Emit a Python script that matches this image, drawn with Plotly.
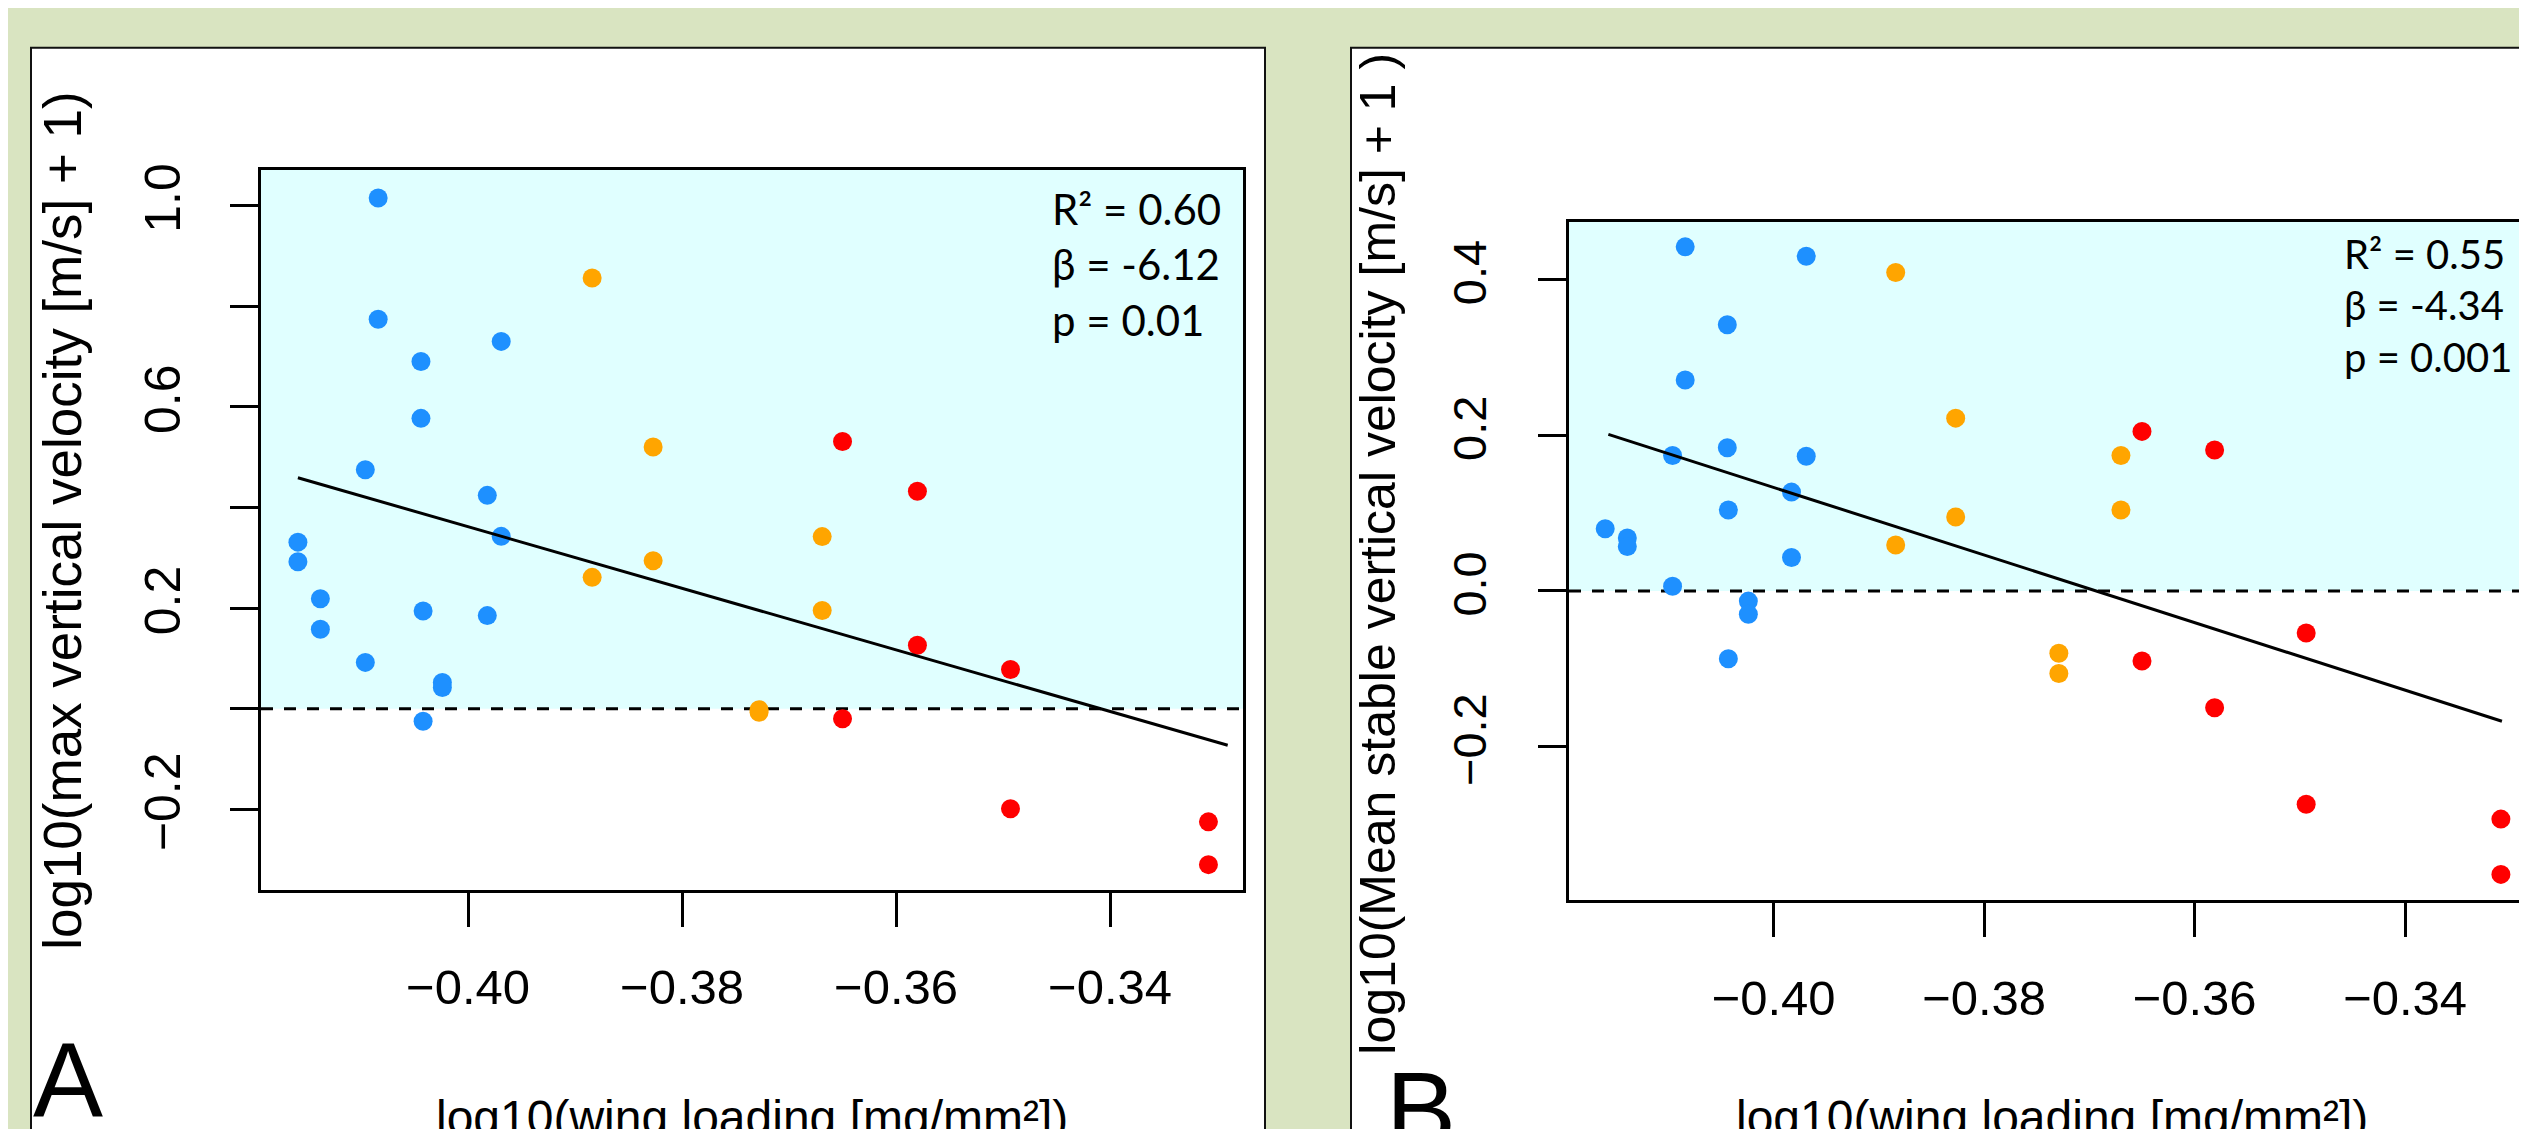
import plotly.graph_objects as go

W, H = 2527, 1129

# ---- panel A: log10(max vertical velocity [m/s] + 1)
a_blue_x = [-0.4084, -0.4084, -0.4044, -0.4044, -0.3969, -0.4096, -0.3982, -0.3969, -0.4159,
            -0.4159, -0.4138, -0.4138, -0.4042, -0.3982, -0.4096, -0.4024, -0.4024, -0.4042]
a_blue_y = [1.015, 0.774, 0.690, 0.577, 0.730, 0.475, 0.424, 0.3425, 0.331,
            0.292, 0.2185, 0.158, 0.194, 0.185, 0.092, 0.052, 0.042, -0.025]
a_orange_x = [-0.3884, -0.3884, -0.3827, -0.3827, -0.3669, -0.3669, -0.3728, -0.3728]
a_orange_y = [0.856, 0.261, 0.520, 0.294, 0.342, 0.195, -0.002, -0.007]
a_red_x = [-0.3650, -0.3650, -0.3580, -0.3580, -0.3493, -0.3493, -0.3308, -0.3308]
a_red_y = [0.531, -0.020, 0.432, 0.126, 0.078, -0.199, -0.225, -0.310]
a_fit = {"intercept": -2.0863, "slope": -6.12, "x": [-0.4159, -0.3290]}
a_stats = ["R² = 0.60", "β = -6.12", "p = 0.01"]

# ---- panel B: log10(Mean stable vertical velocity [m/s] + 1)
b_blue_x = [-0.4084, -0.3969, -0.4044, -0.4084, -0.4096, -0.4044, -0.3969, -0.3983, -0.4043,
            -0.4160, -0.4139, -0.4139, -0.3983, -0.4096, -0.4024, -0.4024, -0.4043]
b_blue_y = [0.442, 0.430, 0.342, 0.271, 0.174, 0.184, 0.173, 0.127, 0.104,
            0.080, 0.068, 0.057, 0.043, 0.006, -0.013, -0.030, -0.087]
b_orange_x = [-0.3884, -0.3884, -0.3827, -0.3827, -0.3670, -0.3670, -0.3729, -0.3729]
b_orange_y = [0.409, 0.059, 0.222, 0.095, 0.174, 0.104, -0.080, -0.106]
b_red_x = [-0.3650, -0.3650, -0.3581, -0.3581, -0.3494, -0.3494, -0.3309, -0.3309]
b_red_y = [0.205, -0.090, 0.181, -0.150, -0.054, -0.274, -0.293, -0.364]
b_fit = {"intercept": -1.6030, "slope": -4.34, "x": [-0.4157, -0.3308]}
b_stats = ["R² = 0.55", "β = -4.34", "p = 0.001"]

x_ticks = [-0.40, -0.38, -0.36, -0.34]
x_ticktext = ["\u22120.40", "\u22120.38", "\u22120.36", "\u22120.34"]
a_yticks = [-0.2, 0.0, 0.2, 0.4, 0.6, 0.8, 1.0]
a_yticktext = ["\u22120.2", "", "0.2", "", "0.6", "", "1.0"]
b_yticks = [-0.2, 0.0, 0.2, 0.4]
b_yticktext = ["\u22120.2", "0.0", "0.2", "0.4"]

BLUE, ORANGE, RED = "#1E90FF", "#FFA500", "#FF0000"
BG = "#D9E4C1"
CYAN = "#E0FFFF"
AXFONT = "Liberation Sans, Arial, sans-serif"
STATFONT = "Lato, Open Sans, sans-serif"


def px(x):
    return x / W


def py(y):
    return 1 - y / H


fig = go.Figure()

for xs, ys, col, xa, ya in [
    (a_blue_x, a_blue_y, BLUE, "x", "y"),
    (a_orange_x, a_orange_y, ORANGE, "x", "y"),
    (a_red_x, a_red_y, RED, "x", "y"),
    (b_blue_x, b_blue_y, BLUE, "x2", "y2"),
    (b_orange_x, b_orange_y, ORANGE, "x2", "y2"),
    (b_red_x, b_red_y, RED, "x2", "y2"),
]:
    fig.add_trace(go.Scatter(x=xs, y=ys, mode="markers", xaxis=xa, yaxis=ya,
                             marker=dict(color=col, size=19, line=dict(width=0)),
                             showlegend=False))

for fit, xa, ya in [(a_fit, "x", "y"), (b_fit, "x2", "y2")]:
    fx = fit["x"]
    fy = [fit["intercept"] + fit["slope"] * v for v in fx]
    fig.add_trace(go.Scatter(x=fx, y=fy, mode="lines", xaxis=xa, yaxis=ya,
                             line=dict(color="black", width=3), showlegend=False))

shapes = [
    # white panels
    dict(type="rect", xref="paper", yref="paper", x0=px(23), x1=px(1257), y0=-0.02, y1=py(33),
         fillcolor="white", line=dict(color="#111", width=2), layer="below"),
    dict(type="rect", xref="paper", yref="paper", x0=px(1343), x1=1.02, y0=-0.02, y1=py(33),
         fillcolor="white", line=dict(color="#111", width=2), layer="below"),
]
for xd, yr, top in [("x domain", "y", 1.0706), ("x2 domain", "y2", 0.4743)]:
    shapes.append(dict(type="rect", xref=xd, yref=yr, x0=0, x1=1, y0=0, y1=top,
                       fillcolor=CYAN, line=dict(width=0), layer="below"))
    shapes.append(dict(type="line", xref=xd, yref=yr, x0=0, x1=1, y0=0, y1=0,
                       line=dict(color="black", width=3, dash="12px,11px"), layer="below"))

axis_common = dict(showgrid=False, zeroline=False, showline=True, linecolor="black", linewidth=3,
                   ticks="outside", tickcolor="black", tickwidth=3)
xtick_font = dict(family=AXFONT, size=49, color="black")

fig.update_layout(
    width=W, height=H,
    margin=dict(l=0, r=0, t=0, b=0),
    paper_bgcolor=BG, plot_bgcolor="white",
    shapes=shapes,
    xaxis=dict(axis_common, domain=[px(253), px(1235)], range=[-0.41935, -0.32757], anchor="y",
               mirror=True, tickvals=x_ticks, ticktext=x_ticktext, ticklen=34,
               ticklabelstandoff=19, tickfont=xtick_font),
    yaxis=dict(axis_common, domain=[py(880), py(156)], range=[-0.3595, 1.0706], anchor="x",
               mirror=True, tickvals=a_yticks, ticktext=a_yticktext, ticklen=28, tickangle=-90,
               ticklabelstandoff=30, tickfont=dict(family=AXFONT, size=50, color="black")),
    xaxis2=dict(axis_common, domain=[px(1561), 1.0], range=[-0.41944, -0.32766], anchor="y2",
                mirror=True, tickvals=x_ticks, ticktext=x_ticktext, ticklen=34,
                ticklabelstandoff=19, tickfont=xtick_font),
    yaxis2=dict(axis_common, domain=[py(890.6), py(208)], range=[-0.397, 0.4743], anchor="x2",
                mirror=False, tickvals=b_yticks, ticktext=b_yticktext, ticklen=28, tickangle=-90,
                ticklabelstandoff=33, tickfont=dict(family=AXFONT, size=47, color="black")),
)

ann = []
ann.append(dict(x=px(55), y=py(509), text="log10(max vertical velocity [m/s] + 1)", textangle=-90,
                font=dict(family=AXFONT, size=53, color="black")))
ann.append(dict(x=px(1370), y=py(542), text="log10(Mean stable vertical velocity [m/s] + 1 )",
                textangle=-90, font=dict(family=AXFONT, size=50, color="black")))
for cx in (744, 2044):
    ann.append(dict(x=px(cx), y=py(1109), text="log10(wing loading [mg/mm²])",
                    font=dict(family=AXFONT, size=48, color="black")))
ann.append(dict(x=px(23), y=py(1071), text="A", xanchor="left",
                font=dict(family=AXFONT, size=105, color="black")))
ann.append(dict(x=px(1376), y=py(1101), text="B", xanchor="left",
                font=dict(family=AXFONT, size=105, color="black")))
for i, t in enumerate(a_stats):
    ann.append(dict(x=px(1042), y=py(195 + 56 * i), text=t, xanchor="left",
                    font=dict(family=STATFONT, size=42, color="black")))
for i, t in enumerate(b_stats):
    ann.append(dict(x=px(2334), y=py(240 + 52 * i), text=t, xanchor="left",
                    font=dict(family=STATFONT, size=40, color="black")))
for a in ann:
    a.update(xref="paper", yref="paper", showarrow=False, yanchor=a.get("yanchor", "middle"))
    a.setdefault("xanchor", "center")
fig.update_layout(annotations=ann)

fig.write_html("out.html")
